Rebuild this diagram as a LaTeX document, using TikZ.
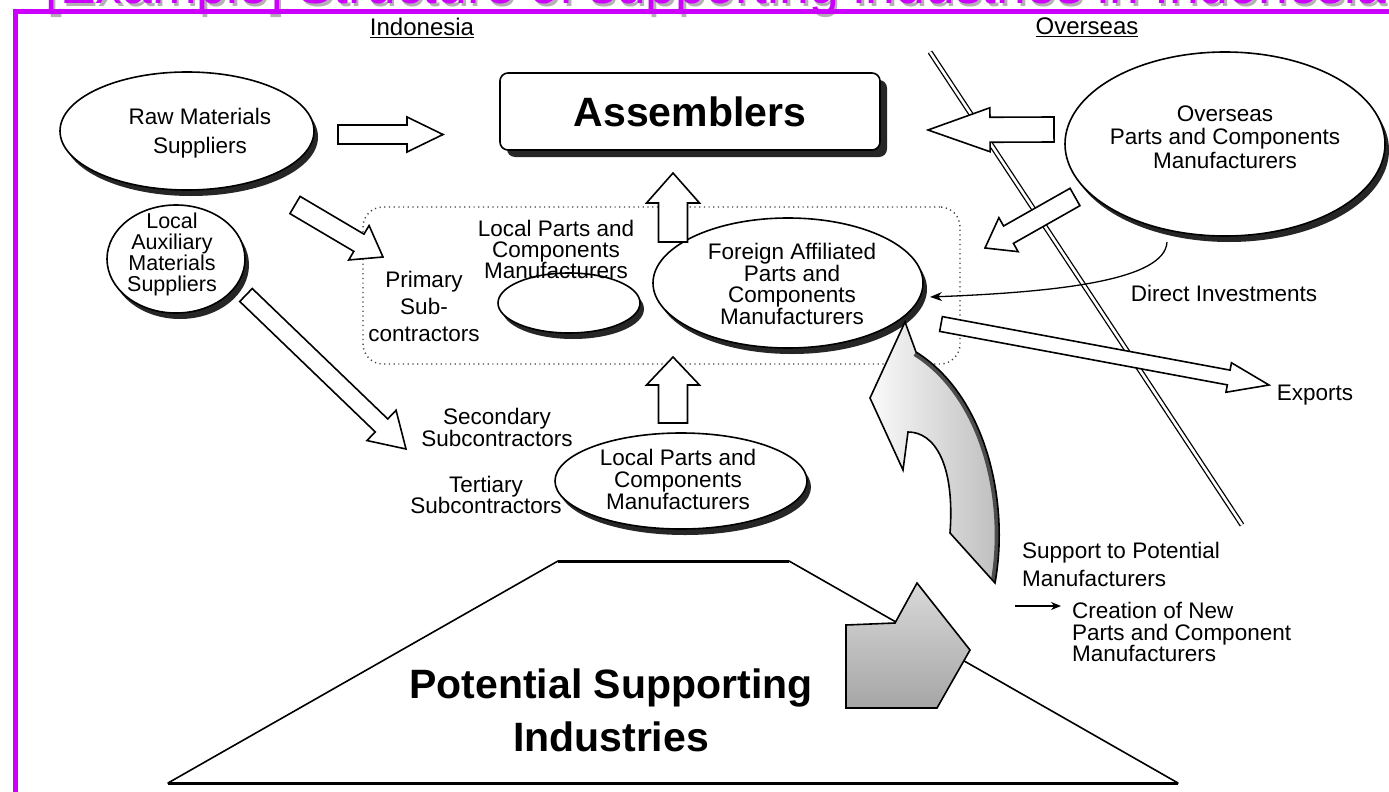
\documentclass[tikz,border=0pt]{standalone}
\usepackage{fontspec}
\setmainfont{Liberation Sans}
\usetikzlibrary{calc,shapes.geometric,shadows,arrows.meta}
\definecolor{titlemag}{RGB}{204,0,255}

% block arrow: [options]{tail}{tip}{shaft half width}{head half width}{head length}
\newcommand\blockarrow[6][]{%
  \coordinate (ba-h) at ($(#3)!#6!(#2)$);
  \draw[barrow,#1] ($(#2)!#4!90:(#3)$) -- ($(ba-h)!#4!90:(#3)$) -- ($(ba-h)!#5!90:(#3)$) -- (#3)
     -- ($(ba-h)!#5!-90:(#3)$) -- ($(ba-h)!#4!-90:(#3)$) -- ($(#2)!#4!-90:(#3)$) -- cycle;
}
\def\bigarrowshape{(905,322) -- (870,398) -- (903,470) -- (908,432)
  .. controls (935,432) and (955,465) .. (950,533) -- (995,583)
  .. controls (1010,500) and (985,395) .. (916,352) -- cycle}
\def\grayarrowshape{(846,625) -- (895,623) -- (917,583) -- (970,650) -- (937,708) -- (846,708) -- cycle}

\begin{document}
\begin{tikzpicture}[x=1pt,y=-1pt,
  lbl/.style 2 args={inner sep=0pt, align=center, font=\fontsize{#1}{#2}\selectfont},
  oval/.style={ellipse, draw=black, line width=1.6pt, fill=white, inner sep=0pt,
    drop shadow={shadow xshift=4pt, shadow yshift=-6pt, fill=black!85, opacity=1}},
  barrow/.style={draw=black, line width=1.6pt, fill=white, line join=miter},
  thinarrow/.style={line width=1.3pt, -{Stealth[length=12pt,width=9pt]}},
  heading/.style={font=\fontsize{24}{24}\selectfont, inner sep=0pt},
  bigbold/.style={font=\fontsize{41}{53}\selectfont\bfseries, align=center, inner sep=0pt},
  titletext/.style={anchor=base west, inner sep=0pt, font=\fontsize{53.5}{60}\selectfont},
]
\useasboundingbox (0,0) rectangle (1389,792);
\clip (0,0) rectangle (1389,792);
\fill[white] (0,0) rectangle (1389,792);

% title and frame
\node[titletext, text=black!30] (titleshadow) at (47.5,6.5) {[Example] Structure of supporting industries in Indonesia};
\node[titletext, text=titlemag] (title) at (45,4) {[Example] Structure of supporting industries in Indonesia};
\draw[titlemag, line width=5pt, line join=miter] (15.5,792) -- (15.5,11.5) -- (1389,11.5);

% region headings
\node[heading] (indonesia) at (422,28) {\underline{Indonesia}};
\node[heading] (overseasH) at (1087,27) {\underline{Overseas}};

% first-tier group
\node[draw=black!75, line width=1.4pt, dash pattern=on 1.2pt off 3.5pt, rounded corners=20pt,
      minimum width=597pt, minimum height=157pt, inner sep=0pt] (tier) at (661.5,285.5) {};

% border between Indonesia and overseas
\coordinate (bTop) at (930,52);
\coordinate (bBot) at (1242,525);
\draw[line width=1.3pt, double=white, double distance=2.6pt] (bTop) -- (bBot);

% potential supporting industries
\draw[line width=1.6pt, fill=white, line join=round] (558,561) -- (789,561) -- (1178,783) -- (168,783) -- cycle;
\draw[line width=3pt] (558,561) -- (789,561);
\draw[line width=3pt] (168,783) -- (1178,783);

% companies
\node[oval, minimum width=254pt, minimum height=118pt] (raw) at (187,131) {};
\node[oval, minimum width=138pt, minimum height=108pt] (aux) at (176,259) {};
\node[oval, minimum width=142pt, minimum height=60pt] (localin) at (569,303) {};
\node[oval, minimum width=270pt, minimum height=130pt] (foreign) at (788,283) {};
\node[oval, minimum width=320pt, minimum height=184pt] (overseas) at (1225,144) {};
\node[oval, minimum width=252pt, minimum height=96pt] (locallow) at (681,481) {};
\node[draw=black, line width=1.6pt, fill=white, rounded corners=8pt, minimum width=380pt, minimum height=77pt,
      drop shadow={shadow xshift=7pt, shadow yshift=-7pt, fill=black!85, opacity=1},
      font=\fontsize{41}{45}\selectfont\bfseries] (asm) at (690,111.5) {Assemblers};

% flows
\coordinate (rawOut) at (338,134.5);   \coordinate (asmInL) at (443,134.5);
\coordinate (ovOut) at (1054,129.5);   \coordinate (asmInR) at (928,130);
\coordinate (rawDown) at (295,205);    \coordinate (primIn) at (383,257);
\coordinate (auxOut) at (246,295);     \coordinate (secIn) at (406,449);
\coordinate (ovDown) at (1075,197);    \coordinate (forIn) at (985,248);
\coordinate (forOut) at (941,324);     \coordinate (expIn) at (1269,385);
\coordinate (tierOut) at (673,242);    \coordinate (asmInB) at (673,173);
\coordinate (lowOut) at (673,423);     \coordinate (tierIn) at (673,357);
\blockarrow{rawOut}{asmInL}{9.5pt}{17.5pt}{36pt}
\blockarrow{ovOut}{asmInR}{12.5pt}{22pt}{62pt}
\blockarrow{rawDown}{primIn}{10pt}{20pt}{28pt}
\blockarrow{auxOut}{secIn}{9pt}{21pt}{34pt}
\blockarrow{ovDown}{forIn}{10pt}{19.5pt}{27pt}
\blockarrow{forOut}{expIn}{7.5pt}{15pt}{41pt}
\blockarrow{tierOut}{asmInB}{14.5pt}{26.5pt}{30pt}
\blockarrow{lowOut}{tierIn}{14.5pt}{26.5pt}{28pt}

% support arrow rising from the potential industries
\fill[white] \bigarrowshape;
\begin{scope}
  \clip \bigarrowshape;
  \shade[left color=white, right color=gray!55] (860,320) rectangle (1010,590);
  \draw[line width=9pt, black!70] (995,583) .. controls (1010,500) and (985,395) .. (916,352);
\end{scope}
\draw[line width=1.6pt, line join=miter] \bigarrowshape;

% new manufacturers emerging
\shade[top color=gray!30, bottom color=gray!70] \grayarrowshape;
\draw[line width=1.6pt, line join=miter] \grayarrowshape;

% direct investments
\coordinate (diStart) at (1167,242);
\coordinate (diEnd) at (930,297);
\draw[thinarrow] (diStart) .. controls (1165,280) and (1060,292) .. (diEnd);

% labels
\node[lbl={22.5}{29}] (rawT) at (200,133) {Raw Materials\\Suppliers};
\node[lbl={21.5}{21}] (auxT) at (172,254) {Local\\Auxiliary\\Materials\\Suppliers};
\node[lbl={22.5}{21}] (localinT) at (556,249) {Local Parts and\\Components\\Manufacturers};
\node[lbl={22.5}{27}] (primT) at (424,306) {Primary\\Sub-\\contractors};
\node[lbl={22.5}{21.7}] (foreignT) at (792,284) {Foreign Affiliated\\Parts and\\Components\\Manufacturers};
\node[lbl={22.5}{23.5}] (overseasT) at (1225,137) {Overseas\\Parts and Components\\Manufacturers};
\node[lbl={22.5}{22}] (locallowT) at (678,479) {Local Parts and\\Components\\Manufacturers};
\node[lbl={22.5}{22}] (secT) at (497,427) {Secondary\\Subcontractors};
\node[lbl={22.5}{21}] (terT) at (486,495) {Tertiary\\Subcontractors};
\node[lbl={22.5}{22}] (diT) at (1224,293) {Direct Investments};
\node[lbl={22.5}{22}] (expT) at (1315,395) {Exports};
\node[lbl={22.5}{28}, anchor=west, align=left] (supT) at (1022,564) {Support to Potential\\Manufacturers};
\node[lbl={22.5}{21.5}, anchor=west, align=left] (creT) at (1072,632) {Creation of New\\Parts and Component\\Manufacturers};
\node[bigbold] (potT) at (611,710) {Potential Supporting\\Industries};

\coordinate (creArrowStart) at (1015,606);
\coordinate (creArrowEnd) at (1061,606);
\draw[line width=1.3pt, -{Stealth[length=10pt,width=8pt]}] (creArrowStart) -- (creArrowEnd);
\end{tikzpicture}
\end{document}
